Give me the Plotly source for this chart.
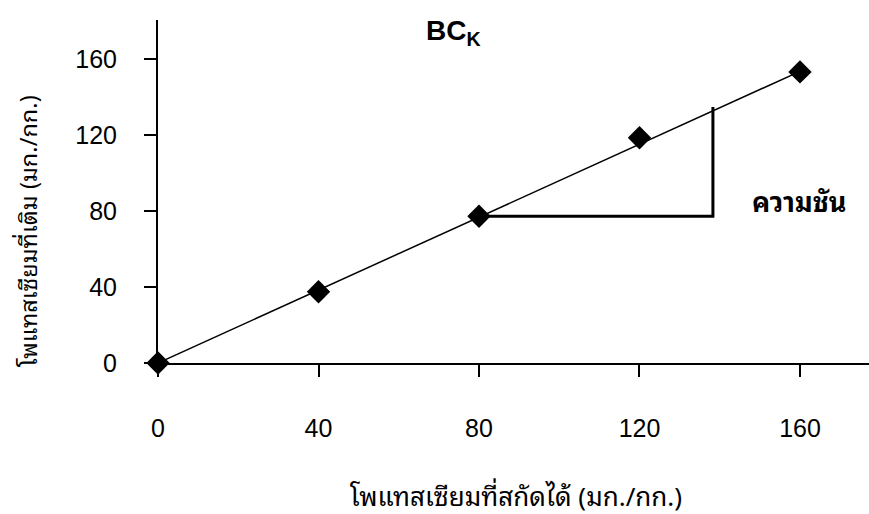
import plotly.graph_objects as go

# Extractable potassium vs. added potassium (mg/kg)
k_extracted = [0, 40, 80, 120, 160]
k_added = [0, 37.5, 77.2, 118.5, 153.2]

# Fitted line endpoints
trend_x = [0, 160]
trend_y = [0, 153.5]

# Slope triangle (run then rise)
slope_x = [80, 138.3, 138.3]
slope_y = [77.2, 77.2, 134.7]

tick_vals = [0, 40, 80, 120, 160]
tick_text = ["0", "40", "80", "120", "160"]

NUM_FONT = "Liberation Sans, Arial, sans-serif"
THAI_FONT = "Tahoma, Noto Sans Thai Looped, Loma, Garuda, Noto Sans Thai, sans-serif"

fig = go.Figure()

fig.add_trace(go.Scatter(
    x=trend_x, y=trend_y, mode="lines",
    line=dict(color="black", width=1.5),
    hoverinfo="skip", showlegend=False,
))
fig.add_trace(go.Scatter(
    x=slope_x, y=slope_y, mode="lines",
    line=dict(color="black", width=3),
    hoverinfo="skip", showlegend=False,
))
fig.add_trace(go.Scatter(
    x=k_extracted, y=k_added, mode="markers",
    marker=dict(symbol="diamond", size=18, color="black"),
    cliponaxis=False, showlegend=False,
))

fig.update_layout(
    width=869, height=514,
    margin=dict(l=158, r=0, t=20, b=151),
    paper_bgcolor="white", plot_bgcolor="white",
    font=dict(family=NUM_FONT, size=25, color="black"),
    xaxis=dict(
        range=[0, 177.2], tickvals=tick_vals, ticktext=tick_text,
        showgrid=False, zeroline=False, showline=True,
        linecolor="black", linewidth=2,
        ticks="outside", ticklen=12, tickwidth=2, tickcolor="black",
        ticklabelstandoff=30,
    ),
    yaxis=dict(
        range=[0, 180.5], tickvals=tick_vals, ticktext=tick_text,
        showgrid=False, zeroline=False, showline=True,
        linecolor="black", linewidth=2,
        ticks="outside", ticklen=12, tickwidth=2, tickcolor="black",
        ticklabelstandoff=22,
    ),
    annotations=[
        dict(text="<b>BC<sub>K</sub></b>", x=453, y=33, xref="paper", yref="paper",
             showarrow=False, font=dict(family=NUM_FONT, size=28)),
        dict(text="<b>ความชัน</b>", x=799, y=200, xref="paper", yref="paper",
             showarrow=False, font=dict(family=THAI_FONT, size=27)),
        dict(text="โพแทสเซียมที่สกัดได้ (มก./กก.)", x=516, y=494,
             xref="paper", yref="paper", showarrow=False,
             font=dict(family=THAI_FONT, size=26)),
        dict(text="โพแทสเซียมที่เติม (มก./กก.)", x=26, y=231,
             xref="paper", yref="paper", showarrow=False, textangle=-90,
             font=dict(family=THAI_FONT, size=23.5)),
    ],
)

# Annotation positions above are given in pixels; convert to paper fractions.
W, H = 869, 514
ml, mr, mt, mb = 158, 0, 20, 151
pw, ph = W - ml - mr, H - mt - mb
for a in fig.layout.annotations:
    px, py = a.x, a.y
    a.x = (px - ml) / pw
    a.y = (H - mb - py) / ph
    a.xanchor = "center"
    a.yanchor = "middle"

fig.write_html("out.html")
